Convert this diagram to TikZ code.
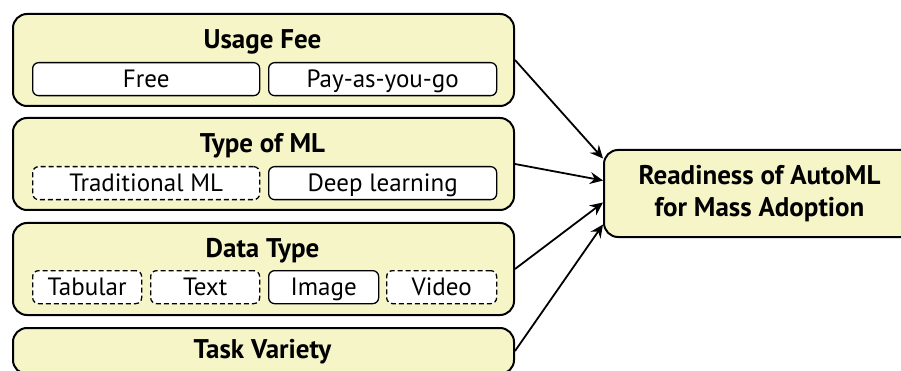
\documentclass[tikz,border=0pt]{standalone}
\usepackage{fontspec}
\setmainfont{PT Sans}
\usetikzlibrary{arrows.meta,calc}
\definecolor{panel}{RGB}{245,245,200}
\begin{document}
\begin{tikzpicture}[x=1pt,y=-1pt,
  panelbox/.style={draw=black, line width=2pt, fill=panel, rounded corners=14pt,
    inner sep=0pt, anchor=north west},
  choice/.style={draw=black, line width=1.3pt, fill=white, rounded corners=6pt,
    inner sep=0pt, anchor=north west, minimum height=33pt,
    text height=17.5pt, text depth=0pt, font=\fontsize{25}{28}\selectfont},
  maybe/.style={choice, dash pattern=on 5pt off 3pt},
  heading/.style={inner sep=0pt, text height=18.5pt, text depth=0pt,
    font=\fontsize{27}{30}\selectfont\bfseries},
  link/.style={line width=1.8pt, -{Stealth[length=13pt,width=12pt,inset=4.5pt]}}]
\useasboundingbox (0,0) rectangle (901,371);
\clip (0,0) rectangle (901,371);

% factor panels
\node[panelbox, minimum width=501pt, minimum height=92pt] (fee)  at (12,13)  {};
\node[panelbox, minimum width=501pt, minimum height=92pt] (kind) at (12,117) {};
\node[panelbox, minimum width=501pt, minimum height=92pt] (data) at (12,222) {};
\node[panelbox, minimum width=501pt, minimum height=46pt] (task) at (12,327) {};

% panel headings
\node[heading] (feeT)  at (262.5,39)  {Usage Fee};
\node[heading] (kindT) at (262.5,143) {Type of ML};
\node[heading] (dataT) at (262.5,248) {Data Type};
\node[heading] (taskT) at (262.5,349) {Task Variety};

% options inside each panel
\node[choice, minimum width=227pt] (free) at (32,62)  {Free};
\node[choice, minimum width=228pt] (payg) at (268,62) {Pay-as-you-go};

\node[maybe,  minimum width=227pt] (trad) at (32,166)  {Traditional ML};
\node[choice, minimum width=228pt] (deep) at (268,166) {Deep learning};

\node[maybe,  minimum width=109pt] (tab) at (32,270)  {Tabular};
\node[maybe,  minimum width=109pt] (txt) at (150,270) {Text};
\node[choice, minimum width=110pt] (img) at (268,270) {Image};
\node[maybe,  minimum width=110pt] (vid) at (386,270) {Video};

% outcome
\node[panelbox, anchor=west, minimum width=311pt, minimum height=87pt,
  align=center, font=\fontsize{27}{32}\selectfont\bfseries] (goal) at (603,193.5)
  {Readiness of AutoML\\for Mass Adoption};

% influences
\draw[link] (fee.east)  -- ($(goal.west)+(0,-35)$);
\draw[link] (kind.east) -- ($(goal.west)+(0,-13)$);
\draw[link] (data.east) -- ($(goal.west)+(0,9)$);
\draw[link] (task.east) -- ($(goal.west)+(0,31)$);
\end{tikzpicture}
\end{document}
